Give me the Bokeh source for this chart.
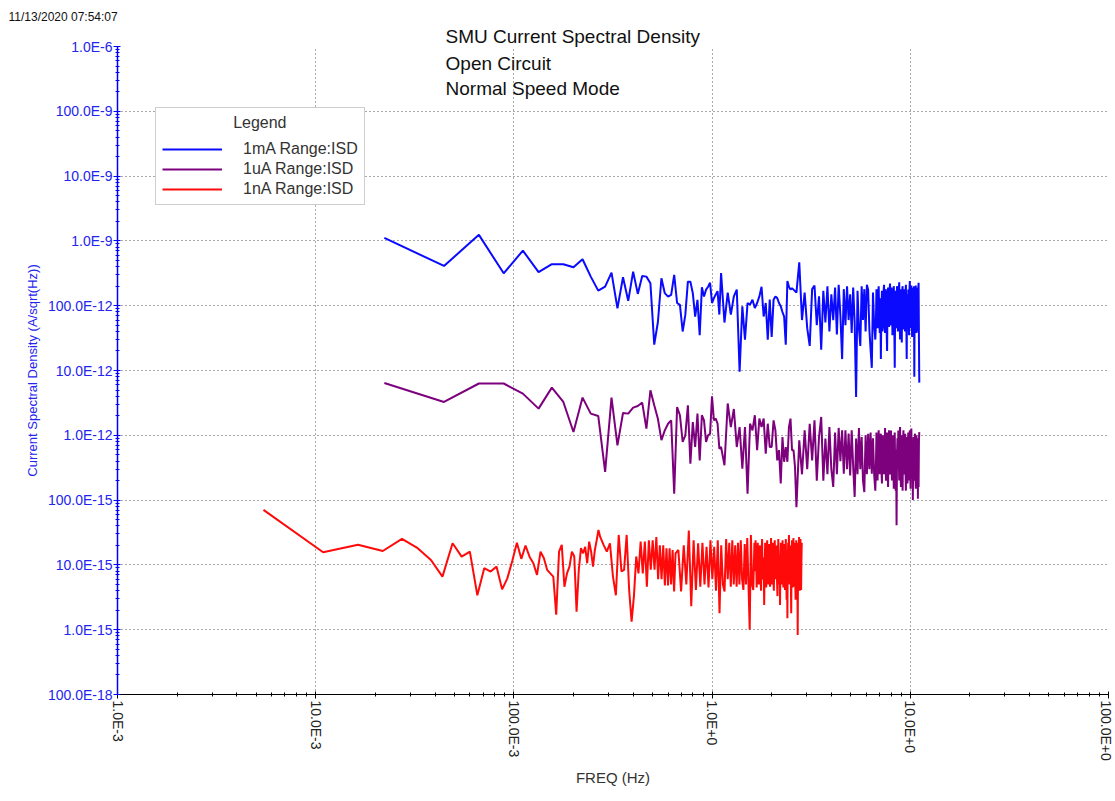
from bokeh.plotting import figure
from bokeh.models import (Legend, LegendItem, Label, CustomJSTickFormatter,
                          FixedTicker, Range1d, Title)
from bokeh.embed import file_html
from bokeh.resources import INLINE

# ---------------- data ----------------
df_1mA = 0.0222      # Hz per bin (1mA and 1uA ranges)
df_1nA = 0.00545     # Hz per bin (1nA range)

bins_1mA = (list(range(1, 51)) + list(range(52, 121, 2)) +
            list(range(124, 301, 4)) + list(range(302, 501, 2)))
bins_1uA = list(bins_1mA)
bins_1nA = (list(range(1, 51)) + list(range(52, 121, 2)) +
            list(range(124, 301, 4)) + list(range(302, 521, 2)))

isd_1mA_pA = [
    1110, 411, 1240, 316, 708, 329, 437, 437, 391, 521,
    281, 171, 197, 324, 91, 275, 119, 336, 152, 288,
    281, 222, 25, 56, 265, 156, 138, 147, 299, 110,
    103, 40, 72, 235, 235, 156, 68, 123, 35, 193,
    139, 177, 196, 226, 110, 131, 149, 168, 73, 319,
    # 52..120 step 2
    55, 159, 73, 139, 177, 9.6, 98, 30, 110, 104,
    124, 92, 110, 139, 196, 68, 110, 30, 124, 33,
    124, 139, 131, 110, 98, 80, 68, 25, 240, 196,
    177, 186, 177, 168, 159,
    # 124..300 step 4
    466, 60, 160, 45, 24, 180, 205, 50, 140, 21,
    170, 55, 200, 40, 150, 60, 190, 36, 210, 70,
    15, 180, 50, 200, 60, 150, 38, 190, 55, 3.9,
    170, 45, 24, 200, 60, 180, 40, 210, 177, 43,
    21, 11, 160, 50, 30,
    # 302..500 step 2
    50, 180, 70, 45, 150, 200, 60, 38, 130, 15,
    90, 170, 40, 50, 160, 210, 55, 38, 180, 160,
    45, 20, 140, 190, 60, 47, 170, 220, 50, 55,
    190, 150, 35, 40, 160, 200, 50, 11, 130, 170,
    45, 60, 200, 190, 40, 45, 170, 230, 60, 30,
    150, 180, 55, 27, 170, 200, 60, 43, 180, 160,
    50, 40, 160, 210, 60, 15, 140, 150, 45, 177,
    60, 35, 170, 240, 45, 50, 180, 205, 60, 33,
    160, 190, 40, 60, 200, 8.0, 140, 170, 50, 205,
    55, 38, 170, 190, 40, 45, 180, 225, 30, 6.5,
]

isd_1uA_fA = [
    6400, 3270, 6300, 6300, 4400, 2580, 5440, 3270, 1125, 3820,
    2160, 1990, 272, 3820, 700, 2210, 2160, 2670, 2830, 3200,
    1270, 4940, 2900, 1800, 840, 1190, 1510, 1700, 126, 2730,
    2040, 790, 1000, 2900, 365, 1600, 660, 2160, 410, 2040,
    1700, 790, 1000, 1060, 4000, 1700, 1810, 1510, 620, 660,
    # 52..120 step 2
    345, 3100, 1340, 2550, 660, 1340, 305, 1340, 126, 1510,
    1190, 2040, 590, 1810, 1340, 1810, 520, 1510, 660, 660,
    1700, 1190, 410, 590, 180, 940, 390, 660, 390, 1340,
    1810, 590, 590, 325, 78,
    # 124..300 step 4
    840, 250, 1190, 300, 1500, 410, 1700, 200, 940, 1920,
    200, 890, 250, 1340, 300, 160, 1100, 250, 1300, 400,
    1190, 255, 1190, 300, 1060, 240, 1200, 325, 112, 890,
    250, 1300, 300, 940, 200, 133, 1000, 250, 1060, 300,
    1100, 255, 900, 250, 140,
    # 302..500 step 2
    300, 1100, 450, 200, 700, 1200, 350, 250, 800, 1060,
    300, 180, 900, 1000, 400, 250, 600, 1300, 300, 200,
    800, 1100, 350, 160, 700, 1200, 300, 250, 900, 1190,
    400, 200, 750, 1000, 300, 150, 800, 1100, 250, 140,
    600, 41, 500, 900, 300, 1190, 450, 200, 900, 1340,
    300, 160, 700, 1000, 350, 140, 800, 1200, 300, 250,
    850, 1060, 300, 140, 700, 940, 250, 180, 800, 1100,
    350, 200, 900, 1190, 300, 150, 850, 1270, 400, 250,
    700, 100, 500, 940, 300, 200, 800, 1060, 250, 150,
    700, 1000, 300, 250, 900, 105, 600, 160, 800, 1120,
]

isd_1nA_fA = [
    70.6, 15.7, 20.4, 16.4, 25.2, 18.1, 11.9, 6.6, 21.6, 13.4,
    16.0, 3.4, 8.9, 7.9, 9.4, 4.2, 6.2, 11.5, 22, 12.4,
    19.9, 13.4, 10.6, 7.0, 16.0, 12.7, 8.4, 7.4, 6.6, 1.7,
    16.0, 20.4, 4.6, 7.4, 9.4, 16.0, 13.5, 1.9, 8.4, 18.1,
    15.1, 19, 10.6, 22.9, 16, 9.4, 17, 24, 34.7, 27,
    # 52..120 step 2
    20.4, 16, 21.5, 6.6, 3.4, 29, 7.9, 8.4, 29, 4.1,
    1.33, 3.3, 13.5, 7.4, 22.9, 7.4, 22.9, 4.6, 24, 8.4,
    24, 8.4, 27, 6, 20, 6, 20, 4.8, 18, 4.8,
    18, 5, 17, 3.9, 15,
    # 124..300 step 4
    17, 3.9, 20, 5, 34, 2.3, 24, 4.1, 21.5, 4.6,
    22, 5, 19, 4.5, 24, 6, 19, 4, 24, 1.8,
    20, 5, 3.9, 25, 6, 22, 4.6, 24, 5, 20,
    4.6, 22, 5, 24, 6, 4.1, 21, 5, 26, 5,
    1.0, 29, 5, 4.1, 22,
    # 302..520 step 2
    8, 24, 12, 4.5, 9, 22, 7, 5, 14, 20,
    6, 4, 15, 25, 7, 6, 13, 2.4, 10, 22,
    6, 4.5, 15, 24, 8, 5, 14, 21, 6, 4.6,
    12, 26, 7, 5, 16, 22, 6, 4, 13, 24,
    8, 6, 14, 20, 6, 3.3, 12, 25, 7, 5,
    10, 2.4, 12, 22, 6, 5, 15, 24, 7, 4.5,
    13, 21, 6, 4.1, 14, 25, 8, 2.9, 10, 1.5,
    12, 22, 7, 29, 9, 5, 15, 20, 6, 1.8,
    12, 24, 7, 4.5, 15, 26, 8, 4.6, 13, 22,
    6, 2.9, 14, 24, 7, 3.6, 12, 0.83, 9, 22,
    8, 27, 10, 4, 14, 25, 6, 4.1, 12, 22,
]

series_names = ["1mA Range:ISD", "1uA Range:ISD", "1nA Range:ISD"]
series_colors = ["#0a0aff", "#7d007d", "#ff0a0a"]

x_major = [1e-3, 1e-2, 1e-1, 1e0, 1e1, 1e2]
y_major = [1e-16, 1e-15, 1e-14, 1e-13, 1e-12, 1e-11, 1e-10, 1e-9, 1e-8, 1e-7, 1e-6]

title_lines = ["SMU Current Spectral Density", "Open Circuit", "Normal Speed Mode"]
timestamp = "11/13/2020 07:54:07"

assert len(bins_1mA) == len(isd_1mA_pA), (len(bins_1mA), len(isd_1mA_pA))
assert len(bins_1uA) == len(isd_1uA_fA), (len(bins_1uA), len(isd_1uA_fA))
assert len(bins_1nA) == len(isd_1nA_fA), (len(bins_1nA), len(isd_1nA_fA))

# unit conversion
f_1mA = [b * df_1mA for b in bins_1mA]
f_1uA = [b * df_1mA for b in bins_1uA]
f_1nA = [b * df_1nA for b in bins_1nA]
v_1mA = [v * 1e-12 for v in isd_1mA_pA]
v_1uA = [v * 1e-15 for v in isd_1uA_fA]
v_1nA = [v * 1e-15 for v in isd_1nA_fA]

FONT = "Liberation Sans"

p = figure(width=1113, height=799, x_axis_type="log", y_axis_type="log",
           x_range=Range1d(1e-3, 1e2), y_range=Range1d(1e-16, 1e-6),
           output_backend="svg", toolbar_location=None,
           min_border_left=117, min_border_right=5, min_border_top=46,
           min_border_bottom=105)
p.outline_line_color = None
p.background_fill_color = "white"
p.border_fill_color = "white"

# time stamp (outer) and first title line (next to the frame)
p.title.text = timestamp
p.title.align = "left"
p.title.offset = -109
p.title.standoff = 0
p.title.text_font = FONT
p.title.text_font_size = "12px"
p.title.text_font_style = "normal"
p.title.text_color = "#111111"
p.add_layout(Title(text=title_lines[0], align="left", offset=328, standoff=0,
                   text_font=FONT, text_font_size="19px", text_line_height=0.75,
                   text_font_style="normal", text_color="#111111"), "above")

fmt = CustomJSTickFormatter(code="""
const e = Math.round(Math.log10(tick));
const g = Math.floor(e / 3) * 3;
const m = Math.pow(10, e - g);
return m.toFixed(1) + "E" + (g >= 0 ? "+" + g : String(g));
""")

def minors(lo, hi):
    out = []
    for e in range(lo, hi):
        for m in range(2, 10):
            out.append(m * 10.0 ** e)
    return out

xt = FixedTicker(ticks=x_major, minor_ticks=minors(-3, 2))
yt = FixedTicker(ticks=y_major, minor_ticks=minors(-16, -6))

xa = p.xaxis[0]
xa.ticker = xt
xa.formatter = fmt
xa.major_label_orientation = "vertical"
xa.axis_line_color = "black"
xa.major_tick_line_color = "black"
xa.minor_tick_line_color = "black"
xa.major_tick_in = 3
xa.major_tick_out = 4
xa.minor_tick_in = 2
xa.minor_tick_out = 2
xa.major_label_standoff = 2
xa.major_label_text_font = FONT
xa.major_label_text_font_size = "14px"
xa.major_label_text_color = "#222222"
xa.axis_label = "FREQ (Hz)"
xa.axis_label_text_font = FONT
xa.axis_label_text_font_size = "15px"
xa.axis_label_text_font_style = "normal"
xa.axis_label_text_color = "#333333"
xa.axis_label_standoff = 5

ya = p.yaxis[0]
ya.ticker = yt
ya.formatter = fmt
ya.axis_line_color = "#0000ff"
ya.axis_line_width = 1.5
ya.major_tick_line_color = "#0000ff"
ya.minor_tick_line_color = "#0000ff"
ya.major_tick_in = 3
ya.major_tick_out = 4
ya.minor_tick_in = 2
ya.minor_tick_out = 2
ya.major_label_standoff = 1
ya.major_label_text_font = FONT
ya.major_label_text_font_size = "14px"
ya.major_label_text_color = "#2424ee"
ya.axis_label = "Current Spectral Density (A/sqrt(Hz))"
ya.axis_label_text_font = FONT
ya.axis_label_text_font_size = "13px"
ya.axis_label_text_font_style = "normal"
ya.axis_label_text_color = "#2424ee"
ya.axis_label_standoff = 5

for g in (p.xgrid[0], p.ygrid[0]):
    g.grid_line_color = "#555555"
    g.grid_line_dash = "1 3"
    g.grid_line_width = 1
p.xgrid[0].ticker = xt
p.ygrid[0].ticker = yt

r1 = p.line(f_1mA, v_1mA, line_color=series_colors[0], line_width=2)
r2 = p.line(f_1uA, v_1uA, line_color=series_colors[1], line_width=2)
r3 = p.line(f_1nA, v_1nA, line_color=series_colors[2], line_width=2)

legend = Legend(
    items=[LegendItem(label=series_names[0], renderers=[r1]),
           LegendItem(label=series_names[1], renderers=[r2]),
           LegendItem(label=series_names[2], renderers=[r3])],
    location=(38, 489),
    title="\u00a0" * 16 + "Legend",
    title_text_font=FONT, title_text_font_size="16px",
    title_text_font_style="normal", title_text_color="#333333",
    title_standoff=8,
    label_text_font=FONT, label_text_font_size="16px",
    label_text_color="#333333",
    glyph_width=60, glyph_height=18, label_height=18, label_standoff=21,
    padding=6, spacing=2, margin=0,
    border_line_color="#a0a0a0", border_line_width=1,
    background_fill_color="white", background_fill_alpha=1.0,
)
p.add_layout(legend)

title_y = [5.47e-7, 2.25e-7]
for txt, ty in zip(title_lines[1:], title_y):
    p.add_layout(Label(x=0.0452, y=ty, text=txt, text_font=FONT,
                       text_font_size="19px", text_color="#111111",
                       text_baseline="middle", text_align="left"))

open("out.html", "w").write(file_html(p, INLINE))
